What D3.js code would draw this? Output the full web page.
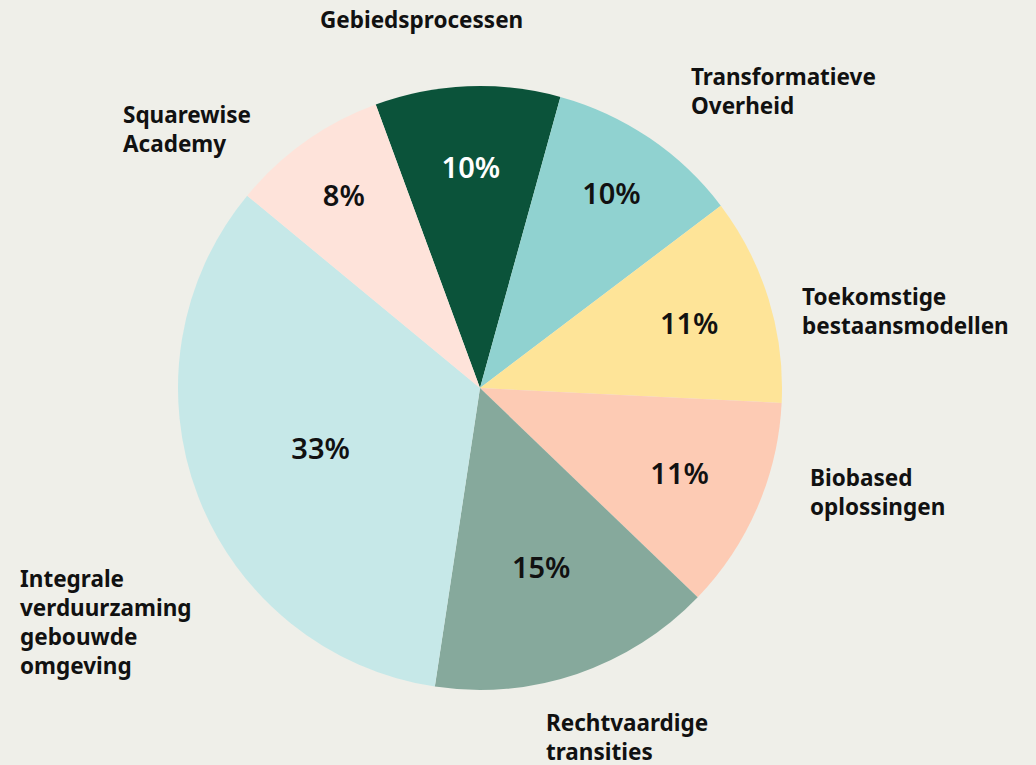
<!DOCTYPE html>
<html lang="nl">
<head>
  <meta charset="UTF-8" />
  <title>Verdeling per programma</title>
  <style>
    body {
      margin: 0;
      background: #efefe9;
      font-family: 'Source Sans Pro', 'Noto Sans', sans-serif;
    }
    svg { display: block; }
    .outer-label {
      font-size: 22.5px;
      font-weight: 700;
      fill: #111;
    }
    .pct-label {
      font-size: 29px;
      font-weight: 600;
      text-anchor: middle;
    }
  </style>
</head>
<body>
  <svg id="pie" width="1036" height="765"></svg>

  <script src="https://d3js.org/d3.v7.min.js"></script>
  <script>
    // categories, clockwise starting with Gebiedsprocessen
    const categories = [
      "Gebiedsprocessen",
      "Transformatieve Overheid",
      "Toekomstige bestaansmodellen",
      "Biobased oplossingen",
      "Rechtvaardige transities",
      "Integrale verduurzaming gebouwde omgeving",
      "Squarewise Academy"
    ];
    const shares = [9.9, 10.4, 11.1, 11.4, 15.2, 33.6, 8.4];
    const pctLabels = ["10%", "10%", "11%", "11%", "15%", "33%", "8%"];
    const labelLines = [
      ["Gebiedsprocessen"],
      ["Transformatieve", "Overheid"],
      ["Toekomstige", "bestaansmodellen"],
      ["Biobased", "oplossingen"],
      ["Rechtvaardige", "transities"],
      ["Integrale", "verduurzaming", "gebouwde", "omgeving"],
      ["Squarewise", "Academy"]
    ];
    const colors = ["#0b533a", "#90d2d0", "#fee498", "#fdcbb4", "#86a99c", "#c6e8e8", "#fee3da"];
    const pctColors = ["#fff", "#111", "#111", "#111", "#111", "#111", "#111"];

    // layout
    const cx = 480, cy = 388, radius = 302;
    const startDeg = -20.2;
    // where each percentage sits, as fraction of radius
    const pctRadius = [0.73, 0.775, 0.725, 0.72, 0.63, 0.565, 0.78];
    // outer label anchors (left x, first baseline)
    const labelAnchors = [
      [320, 28], [691, 85], [802, 305], [810, 486], [546, 731], [20, 587], [123, 123]
    ];
    const lineHeight = 29;

    const svg = d3.select("#pie");
    const g = svg.append("g").attr("transform", `translate(${cx},${cy})`);

    const data = categories.map((c, i) => ({ name: c, value: shares[i], i }));

    const pie = d3.pie()
      .sort(null)
      .value(d => d.value)
      .startAngle(startDeg * Math.PI / 180)
      .endAngle(startDeg * Math.PI / 180 + 2 * Math.PI);

    const arcs = pie(data);
    const arc = d3.arc().innerRadius(0).outerRadius(radius);

    g.selectAll("path.slice")
      .data(arcs)
      .join("path")
      .attr("class", "slice")
      .attr("d", arc)
      .attr("fill", d => colors[d.data.i]);

    g.selectAll("text.pct-label")
      .data(arcs)
      .join("text")
      .attr("class", "pct-label")
      .attr("transform", d => {
        const r = pctRadius[d.data.i] * radius;
        const [x, y] = d3.arc().innerRadius(r).outerRadius(r).centroid(d);
        return `translate(${x},${y})`;
      })
      .attr("dy", "0.35em")
      .attr("fill", d => pctColors[d.data.i])
      .text(d => pctLabels[d.data.i]);

    const labels = svg.selectAll("text.outer-label")
      .data(data)
      .join("text")
      .attr("class", "outer-label")
      .attr("x", d => labelAnchors[d.i][0])
      .attr("y", d => labelAnchors[d.i][1]);

    labels.selectAll("tspan")
      .data(d => labelLines[d.i].map((t, k) => ({ t, k, x: labelAnchors[d.i][0] })))
      .join("tspan")
      .attr("x", d => d.x)
      .attr("dy", d => d.k === 0 ? 0 : lineHeight)
      .text(d => d.t);
  </script>
</body>
</html>
